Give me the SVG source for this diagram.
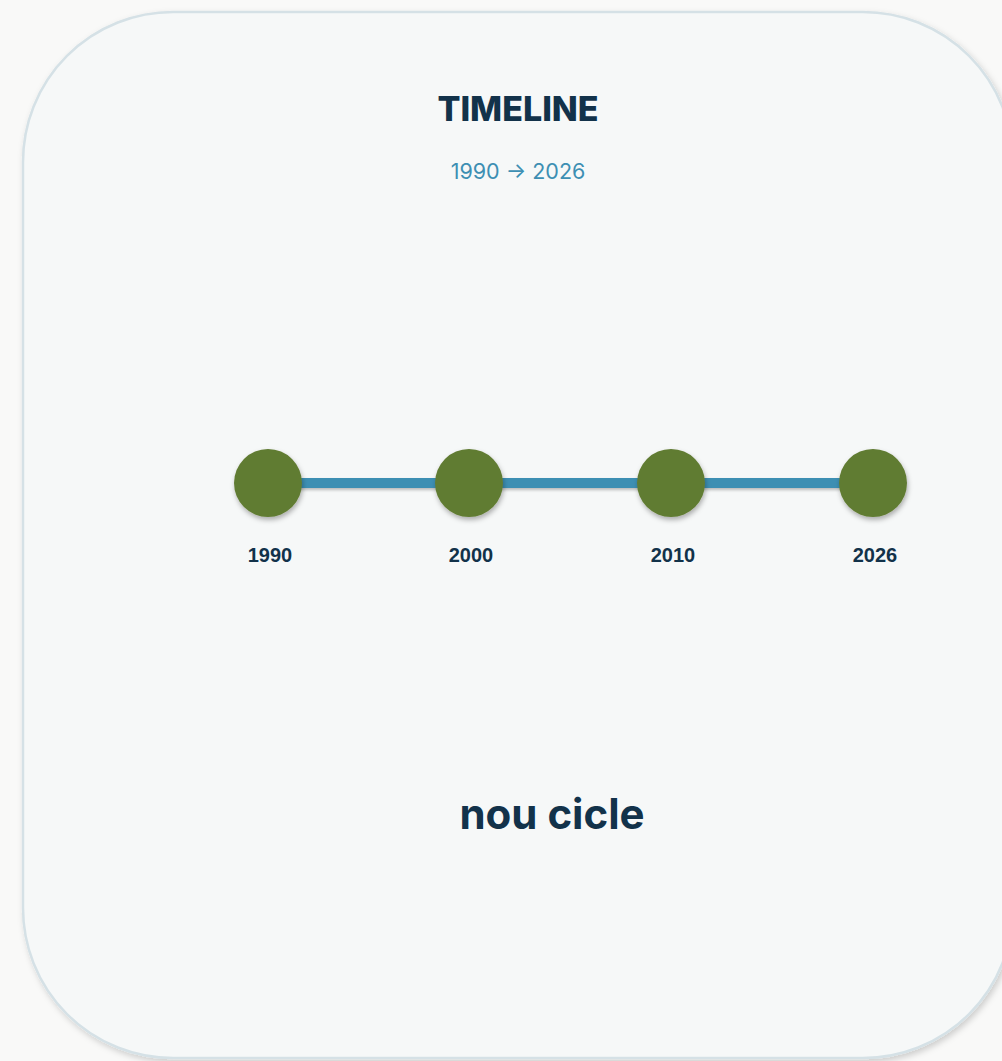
<svg xmlns="http://www.w3.org/2000/svg" width="1002" height="1061" viewBox="0 0 1002 1061">
<defs>
<filter id="cardShadow" x="-10%" y="-10%" width="120%" height="120%">
<feDropShadow dx="2" dy="3" stdDeviation="3" flood-color="#000" flood-opacity="0.18"/>
</filter>
<filter id="dotShadow" x="-30%" y="-30%" width="160%" height="160%">
<feDropShadow dx="1" dy="3" stdDeviation="2.5" flood-color="#000" flood-opacity="0.3"/>
</filter>
<filter id="lineShadow" filterUnits="userSpaceOnUse" x="200" y="460" width="700" height="50">
<feDropShadow dx="1" dy="2" stdDeviation="1.5" flood-color="#000" flood-opacity="0.25"/>
</filter>
<style>
.title{font-family:Inter,"Liberation Sans",sans-serif;font-weight:800;font-size:34px;fill:#12324a;text-anchor:middle}
.sub{font-family:Inter,"Liberation Sans",sans-serif;font-size:21.5px;fill:#3d8fb3;text-anchor:middle}
.year{font-family:"Liberation Sans",Arial,sans-serif;font-weight:700;font-size:20px;fill:#12324a;text-anchor:middle}
.big{font-family:Inter,"Liberation Sans",sans-serif;font-weight:700;font-size:42px;fill:#12324a;text-anchor:middle}
.dot{fill:#617b33;filter:url(#dotShadow)}
</style>
</defs>
<rect width="1002" height="1061" fill="#f9f9f8"/>
<rect id="card" x="23" y="12" width="990" height="1046" rx="150" ry="150" fill="#f6f8f8" stroke="#d5e1e6" stroke-width="2.5" filter="url(#cardShadow)"/>
<text class="title" x="518" y="121">TIMELINE</text>
<text class="sub" x="518" y="179">1990 → 2026</text>
<g id="connectors">
<rect x="268" y="478" width="605" height="10" fill="#3d8fb3" filter="url(#lineShadow)"/>
</g>
<g id="node-1990"><circle class="dot" cx="268" cy="483" r="34"/><text class="year" x="270" y="562">1990</text></g>
<g id="node-2000"><circle class="dot" cx="469" cy="483" r="34"/><text class="year" x="471" y="562">2000</text></g>
<g id="node-2010"><circle class="dot" cx="671" cy="483" r="34"/><text class="year" x="673" y="562">2010</text></g>
<g id="node-2026"><circle class="dot" cx="873" cy="483" r="34"/><text class="year" x="875" y="562">2026</text></g>
<text class="big" x="552" y="829">nou cicle</text>
</svg>
